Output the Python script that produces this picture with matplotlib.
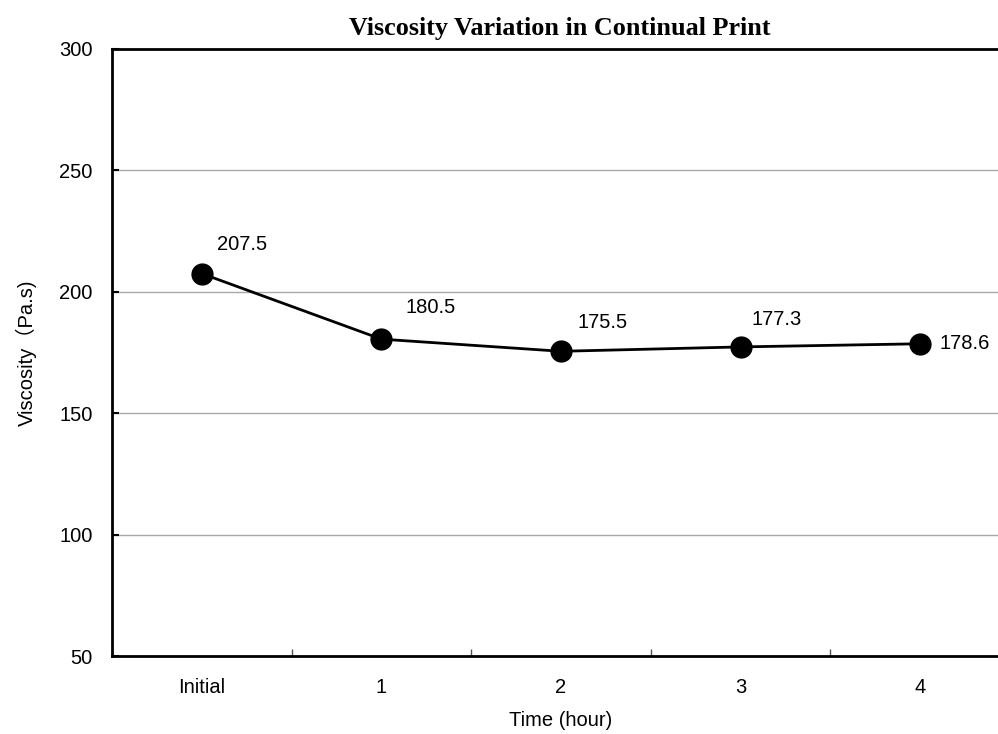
import matplotlib
matplotlib.use("Agg")
import matplotlib.pyplot as plt
from matplotlib.ticker import FixedLocator

categories = ["Initial", "1", "2", "3", "4"]
viscosity = [207.5, 180.5, 175.5, 177.3, 178.6]
yticks = [50, 100, 150, 200, 250, 300]

label_offsets = [(11, 21), (17, 23), (12, 21), (8, 20), (14, 0)]

plt.rcParams['font.family'] = ['Liberation Sans', 'DejaVu Sans']

fig = plt.figure(figsize=(9.98, 7.34), dpi=100)
W, H = 998, 734
left, right, top, bottom = 112, 1010, 49, 656
ax = fig.add_axes([left / W, 1 - bottom / H, (right - left) / W, (bottom - top) / H])

x = list(range(len(categories)))
ax.plot(x, viscosity, color='black', linewidth=2, marker='o', markersize=15,
        markerfacecolor='black', markeredgecolor='black', zorder=3, clip_on=False)

for xi, v, off in zip(x, viscosity, label_offsets):
    ax.annotate(f"{v:.1f}", (xi, v), xytext=off, textcoords='offset points',
                ha='left', va='center', fontsize=14.5)

ax.set_xlim(-0.5, len(categories) - 0.5)
ax.set_ylim(50, 300)
ax.set_yticks(yticks)
ax.set_xticks(x)
ax.set_xticklabels(categories)
ax.xaxis.set_minor_locator(FixedLocator([i + 0.5 for i in range(len(categories) - 1)]))
ax.tick_params(axis='x', which='major', length=0, labelsize=14.5, pad=16)
ax.tick_params(axis='x', which='minor', length=5, width=1, direction='in', color='#555555')
ax.tick_params(axis='y', which='major', length=5, width=1.5, direction='in', labelsize=14.5, pad=14)

for yv in yticks[1:-1]:
    ax.axhline(yv, color='#a8a8a8', linewidth=1, zorder=1)

for s in ['left', 'top', 'bottom']:
    ax.spines[s].set_linewidth(2)
ax.spines['right'].set_visible(False)

ax.set_xlabel("Time (hour)", fontsize=14.5, labelpad=10)
ax.set_ylabel("Viscosity（Pa.s)", fontsize=14.5, labelpad=16,
              family=['Liberation Sans', 'Noto Sans CJK SC', 'DejaVu Sans'])
ax.set_title("Viscosity Variation in Continual Print", fontsize=18.8, fontweight='bold',
             family='Liberation Serif', pad=10, x=(560 - left) / (right - left))

fig.savefig("out.png", dpi=100)
